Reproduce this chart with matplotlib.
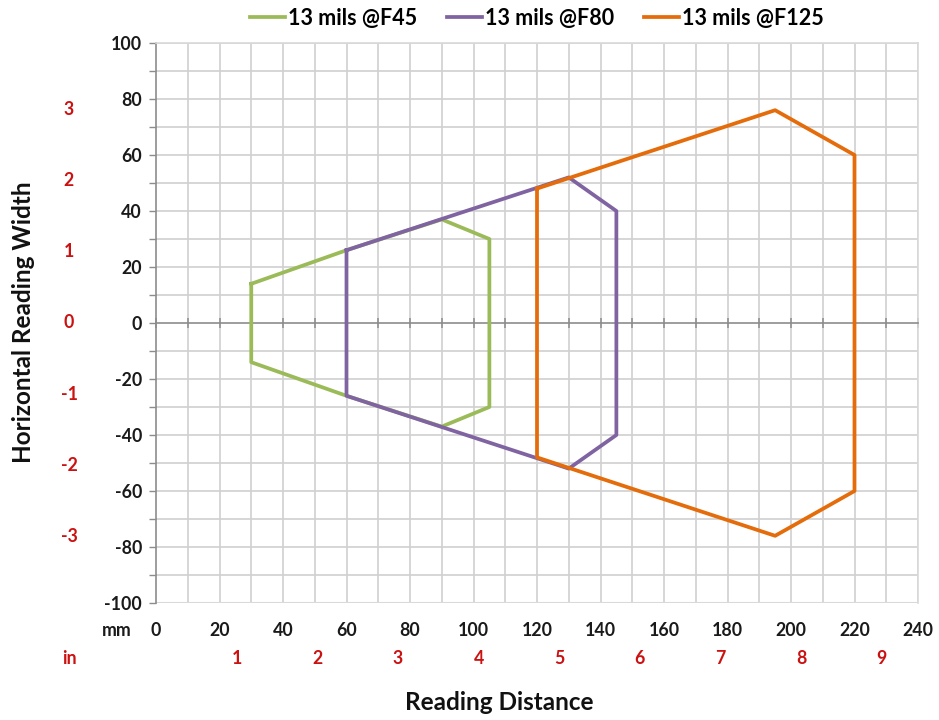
import matplotlib
matplotlib.use("Agg")
import matplotlib.pyplot as plt
from matplotlib import transforms
import numpy as np

plt.rcParams['font.family'] = ['Lato', 'DejaVu Sans']
plt.rcParams['font.weight'] = 'bold'

# Data (mm)
f45_x = [30, 60, 90, 105, 105, 90, 60, 30, 30]
f45_y = [14, 26, 37, 30, -30, -37, -26, -14, 14]
f80_x = [60, 130, 145, 145, 130, 60, 60]
f80_y = [26, 52, 40, -40, -52, -26, 26]
f125_x = [120, 195, 220, 220, 195, 120, 120]
f125_y = [48, 76, 60, -60, -76, -48, 48]
series_names = ["13 mils @F45", "13 mils @F80", "13 mils @F125"]
colors = ["#9BBB59", "#8064A2", "#E46C0A"]

x_ticks_mm = list(range(0, 241, 20))
y_ticks_mm = list(range(-100, 101, 20))
inch_x = [1, 2, 3, 4, 5, 6, 7, 8, 9]
inch_y = [-3, -2, -1, 0, 1, 2, 3]
MM_PER_IN = 25.4

fig = plt.figure(figsize=(9.39, 7.2), dpi=100)
ax = fig.add_axes([156/939, 1-603/720, (918-156)/939, (603-43)/720])
ax.set_xlim(0, 240)
ax.set_ylim(-100, 100)

# grid
for gx in range(10, 241, 10):
    ax.axvline(gx, color="#d0d0d0", lw=1.2, zorder=1)
for gy in range(-100, 101, 10):
    if gy != 0:
        ax.axhline(gy, color="#d0d0d0", lw=1.2, zorder=1)

for s in ['top', 'right']:
    ax.spines[s].set_color("#d9d9d9")
    ax.spines[s].set_linewidth(1.2)
ax.spines['left'].set_color("#8c8c8c")
ax.spines['left'].set_linewidth(1.2)
ax.spines['bottom'].set_position(('data', 0))
ax.spines['bottom'].set_color("#8c8c8c")
ax.spines['bottom'].set_linewidth(1.2)

ax.set_xticks(range(0, 241, 10))
ax.set_xticklabels([])
ax.tick_params(axis='x', direction='inout', length=7, width=1.1, color="#8c8c8c")
ax.set_yticks(range(-100, 101, 10))
ax.set_yticklabels([str(v) if v % 20 == 0 else "" for v in range(-100, 101, 10)])
ax.tick_params(axis='y', direction='out', length=5, width=1, color="#8c8c8c",
               labelsize=12.8, pad=5, labelcolor="#1a1a1a")
ax.axhline(-100, color="#d9d9d9", lw=1.5, zorder=1)

ax.plot(f45_x, f45_y, color=colors[0], lw=2.7, label=series_names[0], zorder=3)
ax.plot(f80_x, f80_y, color=colors[1], lw=2.7, label=series_names[1], zorder=3)
ax.plot(f125_x, f125_y, color=colors[2], lw=2.7, label=series_names[2], zorder=3)

# mm x labels
tr = transforms.blended_transform_factory(ax.transData, fig.transFigure)
for v in x_ticks_mm:
    ax.text(v, 1-630/720, str(v), transform=tr, ha='center', va='center',
            fontsize=12.8, color="#1a1a1a")
fig.text(117/939, 1-630/720, "mm", ha='center', va='center', fontsize=12.8, color="#1a1a1a")
fig.text(69/939, 1-658/720, "in", ha='center', va='center', fontsize=12.8, color="#cc1111")
for v in inch_x:
    ax.text(v*MM_PER_IN, 1-658/720, str(v), transform=tr, ha='center', va='center',
            fontsize=12.8, color="#cc1111")
tr2 = transforms.blended_transform_factory(fig.transFigure, ax.transData)
for v in inch_y:
    ax.text(69/939, v*MM_PER_IN, str(v), transform=tr2, ha='center', va='center',
            fontsize=12.8, color="#cc1111")

fig.text(24/939, 1-322/720, "Horizontal Reading Width", rotation=90, ha='center',
         va='center', fontsize=17.5, color="#111111")
fig.text(499/939, 1-703/720, "Reading Distance", ha='center', va='center',
         fontsize=17.5, color="#111111")

fig.legend(loc='center', bbox_to_anchor=(537/939, 1-18/720), ncol=3, frameon=False,
           fontsize=15.5, handlelength=1.6, columnspacing=1.4, handletextpad=0.15)

fig.savefig("out.png", dpi=100)
